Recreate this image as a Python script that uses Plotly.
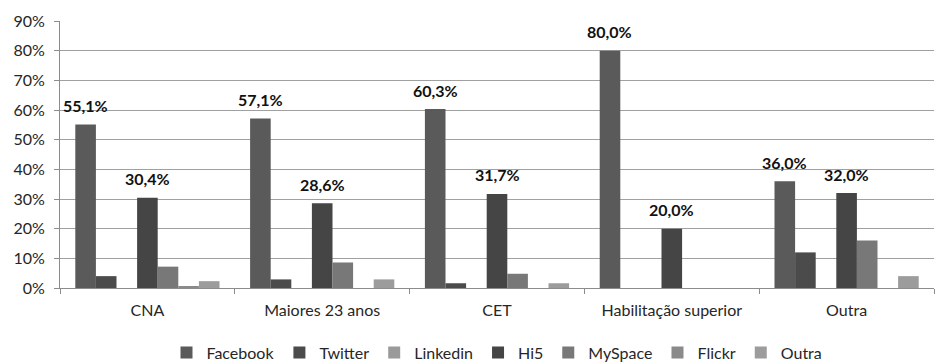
import plotly.graph_objects as go

categories = ["CNA", "Maiores 23 anos", "CET", "Habilitação superior", "Outra"]
series_names = ["Facebook", "Twitter", "Linkedin", "Hi5", "MySpace", "Flickr", "Outra"]

facebook = [55.1, 57.1, 60.3, 80.0, 36.0]
twitter = [4.0, 2.9, 1.6, 0.0, 12.0]
linkedin = [0.0, 0.0, 0.0, 0.0, 0.0]
hi5 = [30.4, 28.6, 31.7, 20.0, 32.0]
myspace = [7.2, 8.6, 4.8, 0.0, 16.0]
flickr = [0.6, 0.0, 0.0, 0.0, 0.0]
outra = [2.3, 2.9, 1.6, 0.0, 4.0]

series_values = [facebook, twitter, linkedin, hi5, myspace, flickr, outra]
labelled_series = ["Facebook", "Hi5"]

y_ticks = [0, 10, 20, 30, 40, 50, 60, 70, 80, 90]

colors = ["#5a5a5a", "#4b4b4b", "#9a9a9a", "#454545", "#787878", "#8a8a8a", "#9c9c9c"]

W, H = 936, 362
ML, MR, MT, MB = 60, 2, 21, 74
BARGAP = 0.175
FONT = "Lato"

fig = go.Figure()
for name, vals, col in zip(series_names, series_values, colors):
    fig.add_trace(go.Bar(name=name, x=categories, y=vals, marker=dict(color=col, line=dict(width=0))))

plot_w = W - ML - MR
cat_w = plot_w / len(categories)
bar_w = cat_w * (1 - BARGAP) / len(series_names)
n = len(series_names)

annotations = []
for si, (name, vals) in enumerate(zip(series_names, series_values)):
    if name not in labelled_series:
        continue
    for cat, v in zip(categories, vals):
        if v <= 0:
            continue
        annotations.append(dict(
            x=cat, y=v, xref="x", yref="y",
            text=f"{v:.1f}%".replace(".", ","),
            showarrow=False, xanchor="center", yanchor="middle",
            xshift=(si - (n - 1) / 2) * bar_w, yshift=19,
            font=dict(family=FONT, size=16, color="#111111", weight="bold"),
        ))

fig.update_layout(
    width=W, height=H,
    margin=dict(l=ML, r=MR, t=MT, b=MB, autoexpand=False),
    paper_bgcolor="white", plot_bgcolor="white",
    barmode="group", bargap=BARGAP, bargroupgap=0,
    font=dict(family=FONT, size=16, color="#262626"),
    annotations=annotations,
    legend=dict(orientation="h", x=0.5, xanchor="center",
                yref="container", y=0.026, yanchor="middle",
                font=dict(family=FONT, size=16, color="#262626"),
                itemwidth=30, tracegroupgap=0),
    showlegend=True,
)
fig.update_xaxes(
    showline=True, linecolor="#8c8c8c", linewidth=1,
    ticks="outside", tickson="boundaries", ticklen=5, tickcolor="#8c8c8c",
    showgrid=False, ticklabelstandoff=8, automargin=False,
    tickfont=dict(family=FONT, size=16, color="#262626"),
)
fig.update_yaxes(
    range=[0, 90], tickvals=y_ticks, ticktext=[f"{t}%" for t in y_ticks],
    showline=True, linecolor="#8c8c8c", linewidth=1,
    ticks="outside", ticklen=5, tickcolor="#8c8c8c",
    showgrid=True, gridcolor="#a0a0a0", gridwidth=1, zeroline=False,
    ticklabelstandoff=6, automargin=False,
    tickfont=dict(family=FONT, size=16, color="#262626"),
)

fig.write_html("out.html")
